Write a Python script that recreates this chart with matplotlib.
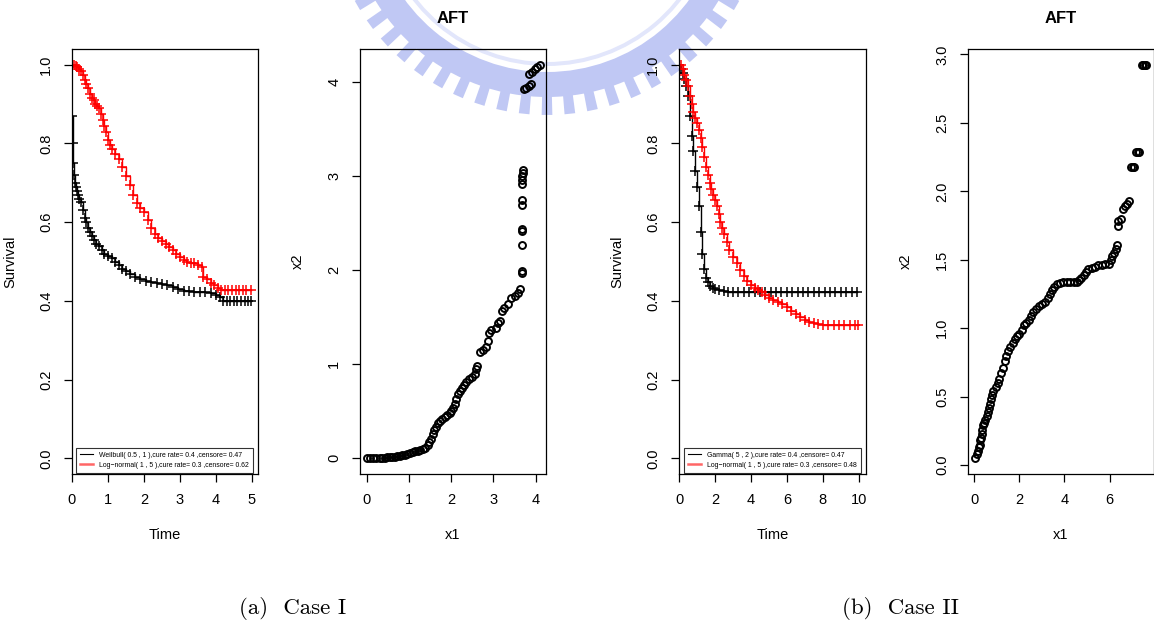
import matplotlib
matplotlib.use("Agg")
import matplotlib.pyplot as plt
from matplotlib.patches import Wedge, Polygon
from matplotlib.lines import Line2D
import numpy as np

plt.rcParams['font.family'] = ['Liberation Sans', 'DejaVu Sans']

# ---- Case I : Kaplan-Meier curves (time, survival) ----
weib_t = [0.00, 0.02, 0.04, 0.06, 0.08, 0.10, 0.13, 0.16, 0.20, 0.25, 0.30, 0.35, 0.40, 0.45,
          0.50, 0.55, 0.60, 0.68, 0.75, 0.82, 0.90, 1.00, 1.10, 1.20, 1.30, 1.40, 1.50, 1.60,
          1.75, 1.90, 2.05, 2.20, 2.35, 2.50, 2.65, 2.80, 2.95, 3.10, 3.25, 3.40, 3.55, 3.70,
          3.85, 4.00, 4.10, 4.20, 4.30, 4.40, 4.50, 4.60, 4.70, 4.80, 4.90, 4.97]
weib_s = [0.87, 0.80, 0.75, 0.72, 0.70, 0.69, 0.68, 0.67, 0.66, 0.65, 0.63, 0.61, 0.60, 0.585,
          0.575, 0.565, 0.555, 0.545, 0.54, 0.53, 0.52, 0.515, 0.51, 0.50, 0.49, 0.48, 0.475, 0.468,
          0.46, 0.455, 0.45, 0.447, 0.445, 0.442, 0.44, 0.435, 0.43, 0.425, 0.424, 0.423, 0.422, 0.422,
          0.42, 0.415, 0.41, 0.40, 0.40, 0.40, 0.40, 0.40, 0.40, 0.40, 0.40, 0.40]

ln1_t = [0.00, 0.05, 0.10, 0.15, 0.20, 0.25, 0.30, 0.35, 0.40, 0.45, 0.50, 0.55, 0.60, 0.65,
         0.70, 0.75, 0.80, 0.85, 0.90, 0.95, 1.00, 1.05, 1.10, 1.20, 1.30, 1.40, 1.50, 1.60,
         1.70, 1.80, 1.90, 2.00, 2.10, 2.20, 2.30, 2.40, 2.50, 2.60, 2.70, 2.80, 2.90, 3.00,
         3.10, 3.20, 3.30, 3.40, 3.50, 3.60, 3.65, 3.75, 3.85, 3.95, 4.05, 4.15, 4.25, 4.35,
         4.45, 4.55, 4.65, 4.75, 4.85, 4.97]
ln1_s = [1.00, 1.00, 0.998, 0.995, 0.99, 0.985, 0.975, 0.96, 0.95, 0.94, 0.925, 0.915, 0.91, 0.90,
         0.895, 0.89, 0.875, 0.86, 0.845, 0.83, 0.81, 0.795, 0.785, 0.772, 0.76, 0.74, 0.717, 0.695,
         0.67, 0.648, 0.635, 0.625, 0.605, 0.585, 0.57, 0.56, 0.553, 0.545, 0.538, 0.53, 0.52, 0.512,
         0.505, 0.50, 0.497, 0.495, 0.49, 0.485, 0.46, 0.455, 0.445, 0.44, 0.432, 0.428, 0.428, 0.428,
         0.428, 0.428, 0.428, 0.428, 0.428, 0.428]

# ---- Case I : AFT x1 vs x2 ----
aft1_x1 = [0.00, 0.08, 0.15, 0.22, 0.30, 0.36, 0.42, 0.48, 0.54, 0.60, 0.66, 0.72, 0.78, 0.84,
           0.90, 0.96, 1.02, 1.08, 1.14, 1.20, 1.26, 1.32, 1.38, 1.44, 1.48, 1.52, 1.56, 1.60,
           1.64, 1.68, 1.72, 1.78, 1.84, 1.90, 1.96, 2.00, 2.04, 2.08, 2.12, 2.16, 2.20, 2.25,
           2.30, 2.36, 2.42, 2.50, 2.55, 2.58, 2.60, 2.68, 2.75, 2.82, 2.86, 2.90, 2.95, 3.05,
           3.10, 3.16, 3.20, 3.26, 3.35, 3.42, 3.50, 3.58, 3.64, 3.67, 3.67, 3.67, 3.67, 3.67,
           3.67, 3.67, 3.68, 3.68, 3.68, 3.69, 3.70, 3.72, 3.78, 3.84, 3.90, 3.85, 3.92, 3.98,
           4.04, 4.10]
aft1_x2 = [0.00, 0.00, 0.00, 0.003, 0.005, 0.006, 0.008, 0.01, 0.012, 0.014, 0.016, 0.02, 0.025, 0.03,
           0.04, 0.05, 0.06, 0.07, 0.075, 0.08, 0.085, 0.095, 0.11, 0.14, 0.17, 0.21, 0.26, 0.30,
           0.33, 0.37, 0.40, 0.42, 0.44, 0.46, 0.48, 0.50, 0.53, 0.58, 0.63, 0.68, 0.72, 0.75,
           0.78, 0.81, 0.84, 0.86, 0.90, 0.95, 0.98, 1.13, 1.15, 1.18, 1.25, 1.33, 1.36, 1.38,
           1.44, 1.46, 1.57, 1.60, 1.64, 1.70, 1.73, 1.76, 1.80, 1.97, 1.99, 2.27, 2.42, 2.44,
           2.69, 2.74, 2.92, 2.96, 3.00, 3.03, 3.06, 3.92, 3.94, 3.96, 3.98, 4.08, 4.11, 4.14,
           4.16, 4.18]

# ---- Case II : Kaplan-Meier curves ----
gam_t = [0.00, 0.10, 0.20, 0.30, 0.40, 0.50, 0.60, 0.70, 0.80, 0.90, 1.00, 1.10, 1.20, 1.30,
         1.40, 1.50, 1.60, 1.75, 1.90, 2.00, 2.25, 2.50, 2.75, 3.00, 3.30, 3.60, 3.90, 4.20,
         4.50, 4.80, 5.10, 5.40, 5.70, 6.00, 6.30, 6.60, 6.90, 7.20, 7.50, 7.80, 8.10, 8.40,
         8.70, 9.00, 9.30, 9.60, 9.90]
gam_s = [1.00, 0.99, 0.98, 0.965, 0.945, 0.92, 0.87, 0.82, 0.78, 0.73, 0.69, 0.64, 0.575, 0.52,
         0.48, 0.457, 0.447, 0.439, 0.433, 0.43, 0.427, 0.425, 0.423, 0.422, 0.422, 0.422, 0.422, 0.422,
         0.422, 0.422, 0.422, 0.422, 0.422, 0.422, 0.422, 0.422, 0.422, 0.422, 0.422, 0.422, 0.422, 0.422,
         0.422, 0.422, 0.422, 0.422, 0.422]

ln2_t = [0.00, 0.10, 0.20, 0.30, 0.40, 0.50, 0.60, 0.70, 0.80, 0.90, 1.00, 1.10, 1.20, 1.30,
         1.40, 1.50, 1.60, 1.70, 1.80, 1.90, 2.00, 2.10, 2.20, 2.30, 2.40, 2.50, 2.65, 2.80,
         3.00, 3.20, 3.40, 3.60, 3.80, 4.00, 4.20, 4.40, 4.60, 4.80, 5.00, 5.25, 5.50, 5.75,
         6.00, 6.25, 6.50, 6.75, 7.00, 7.25, 7.50, 7.75, 8.00, 8.30, 8.60, 8.90, 9.20, 9.50,
         9.80, 9.95]
ln2_s = [1.00, 1.00, 0.99, 0.975, 0.96, 0.947, 0.92, 0.90, 0.88, 0.865, 0.852, 0.835, 0.815, 0.79,
         0.765, 0.74, 0.72, 0.70, 0.685, 0.67, 0.657, 0.64, 0.62, 0.60, 0.585, 0.57, 0.55, 0.53,
         0.511, 0.495, 0.478, 0.462, 0.45, 0.44, 0.433, 0.428, 0.423, 0.415, 0.407, 0.403, 0.398, 0.392,
         0.384, 0.375, 0.366, 0.358, 0.352, 0.347, 0.343, 0.34, 0.339, 0.339, 0.339, 0.339, 0.339, 0.339,
         0.339, 0.339]

# ---- Case II : AFT x1 vs x2 ----
aft2_x1 = [0.04, 0.12, 0.18, 0.20, 0.24, 0.28, 0.30, 0.33, 0.36, 0.38, 0.42, 0.48, 0.55, 0.60,
           0.65, 0.70, 0.75, 0.80, 0.85, 0.95, 1.05, 1.12, 1.20, 1.28, 1.35, 1.42, 1.50, 1.60,
           1.70, 1.80, 1.90, 2.00, 2.10, 2.20, 2.30, 2.42, 2.52, 2.62, 2.75, 2.88, 3.00, 3.12,
           3.25, 3.35, 3.45, 3.55, 3.68, 3.80, 3.95, 4.10, 4.25, 4.40, 4.55, 4.65, 4.75, 4.85,
           4.95, 5.05, 5.20, 5.35, 5.50, 5.65, 5.80, 5.95, 6.05, 6.10, 6.20, 6.28, 6.33, 6.35,
           6.38, 6.50, 6.60, 6.68, 6.75, 6.85, 6.95, 7.02, 7.08, 7.18, 7.25, 7.32, 7.42, 7.48,
           7.55, 7.60]
aft2_x2 = [0.05, 0.08, 0.10, 0.13, 0.15, 0.18, 0.20, 0.23, 0.26, 0.29, 0.31, 0.33, 0.36, 0.39,
           0.42, 0.45, 0.48, 0.51, 0.54, 0.57, 0.60, 0.63, 0.67, 0.71, 0.76, 0.80, 0.83, 0.86,
           0.89, 0.92, 0.94, 0.96, 0.99, 1.02, 1.04, 1.06, 1.09, 1.12, 1.14, 1.16, 1.18, 1.19,
           1.22, 1.25, 1.28, 1.30, 1.32, 1.33, 1.335, 1.34, 1.34, 1.34, 1.335, 1.35, 1.37, 1.39,
           1.41, 1.43, 1.44, 1.45, 1.46, 1.465, 1.47, 1.47, 1.50, 1.53, 1.55, 1.58, 1.61, 1.75,
           1.78, 1.80, 1.87, 1.89, 1.91, 1.93, 2.18, 2.18, 2.18, 2.29, 2.29, 2.29, 2.92, 2.92,
           2.92, 2.92]

legend1 = ['Weilbull( 0.5 , 1 ),cure rate= 0.4 ,censore= 0.47',
           'Log\u2212normal( 1 , 5 ),cure rate= 0.3 ,censore= 0.62']
legend2 = ['Gamma( 5 , 2 ),cure rate= 0.4 ,censore= 0.47',
           'Log\u2212normal( 1 , 5 ),cure rate= 0.3 ,censore= 0.48']

W, H = 1154, 626
fig = plt.figure(figsize=(W / 100, H / 100), dpi=100)
fig.patch.set_facecolor('white')

# faint watermark (toothed ring) behind the plots
bg = fig.add_axes([0, 0, 1, 1], zorder=-1)
bg.set_xlim(0, W)
bg.set_ylim(H, 0)
bg.axis('off')
wm = '#c0c8f4'
cx, cy = 547, -104
bg.add_patch(Wedge((cx, cy), 201, 10, 170, width=25, color=wm, lw=0))
bg.add_patch(Wedge((cx, cy), 170, 10, 170, width=4, color='#e2e6fb', lw=0))
for a in np.arange(18, 170, 6.0):
    a0, a1 = np.radians(a - 1.4), np.radians(a + 1.4)
    pts = [(cx + 199 * np.cos(a0), cy + 199 * np.sin(a0)),
           (cx + 219 * np.cos(a0), cy + 219 * np.sin(a0)),
           (cx + 219 * np.cos(a1), cy + 219 * np.sin(a1)),
           (cx + 199 * np.cos(a1), cy + 199 * np.sin(a1))]
    bg.add_patch(Polygon(pts, closed=True, color=wm, lw=0))


def make_ax(x0, x1):
    top, bot = 49, 474
    ax = fig.add_axes([x0 / W, 1 - bot / H, (x1 - x0) / W, (bot - top) / H])
    ax.set_facecolor('none')
    for s in ax.spines.values():
        s.set_linewidth(0.9)
    ax.tick_params(length=6, width=0.9, pad=7.5, labelsize=10.5)
    return ax


def rot_y(ax):
    for lbl in ax.get_yticklabels():
        lbl.set_rotation(90)
        lbl.set_va('center')


def km_panel(ax, curves, xmax, xticks, labels):
    for (t, s, c) in curves:
        ax.step(t, s, where='post', color=c, lw=1.0)
        ax.plot(t, s, '+', color=c, ms=7, mew=1.1, ls='none')
    ax.set_xlim(0, xmax)
    ax.set_ylim(-0.04, 1.04)
    ax.set_xticks(xticks)
    ax.set_yticks([0.0, 0.2, 0.4, 0.6, 0.8, 1.0])
    ax.set_yticklabels(['0.0', '0.2', '0.4', '0.6', '0.8', '1.0'])
    rot_y(ax)
    ax.set_xlabel('Time', fontsize=10.5, labelpad=15)
    ax.set_ylabel('Survival', fontsize=10.5, labelpad=16)
    handles = [Line2D([], [], color='black', lw=0.8),
               Line2D([], [], color='#ff6666', lw=1.8)]
    leg = ax.legend(handles, labels, loc='lower right', bbox_to_anchor=(0.972, 0.003),
                    borderaxespad=0, fontsize=4.95, frameon=True, fancybox=False,
                    edgecolor='black', handlelength=1.9, handletextpad=0.9,
                    labelspacing=0.4, borderpad=0.6)
    leg.get_frame().set_linewidth(0.8)


def aft_panel(ax, x1, x2, xlim, ylim, xticks, yticks, ylabels):
    ax.plot(x1, x2, 'o', mfc='none', mec='black', ms=5, mew=1.4, ls='none')
    ax.set_xlim(*xlim)
    ax.set_ylim(*ylim)
    ax.set_xticks(xticks)
    ax.set_yticks(yticks)
    ax.set_yticklabels(ylabels)
    rot_y(ax)
    ax.set_xlabel('x1', fontsize=10.5, labelpad=15)
    ax.set_ylabel('x2', fontsize=10.5, labelpad=16)
    ax.set_title('AFT', fontsize=12, fontweight='bold', pad=19)


ax1 = make_ax(72, 258)
km_panel(ax1, [(weib_t, weib_s, 'black'), (ln1_t, ln1_s, 'red')], 5.17, [0, 1, 2, 3, 4, 5], legend1)

ax2 = make_ax(360, 546)
aft_panel(ax2, aft1_x1, aft1_x2, (-0.165, 4.245), (-0.167, 4.35),
          [0, 1, 2, 3, 4], [0, 1, 2, 3, 4], ['0', '1', '2', '3', '4'])

ax3 = make_ax(679, 866)
km_panel(ax3, [(gam_t, gam_s, 'black'), (ln2_t, ln2_s, 'red')], 10.4, [0, 2, 4, 6, 8, 10], legend2)

ax4 = make_ax(968, 1153.5)
aft_panel(ax4, aft2_x1, aft2_x2, (-0.27, 7.94), (-0.065, 3.04),
          [0, 2, 4, 6], [0.0, 0.5, 1.0, 1.5, 2.0, 2.5, 3.0],
          ['0.0', '0.5', '1.0', '1.5', '2.0', '2.5', '3.0'])

fig.text(293 / W, 1 - 609 / H, '(a)  Case I', family='cmr10', fontsize=16.5, ha='center', va='center')
fig.text(900 / W, 1 - 609 / H, '(b)  Case II', family='cmr10', fontsize=16.5, ha='center', va='center')

fig.savefig('out.png', dpi=100)
